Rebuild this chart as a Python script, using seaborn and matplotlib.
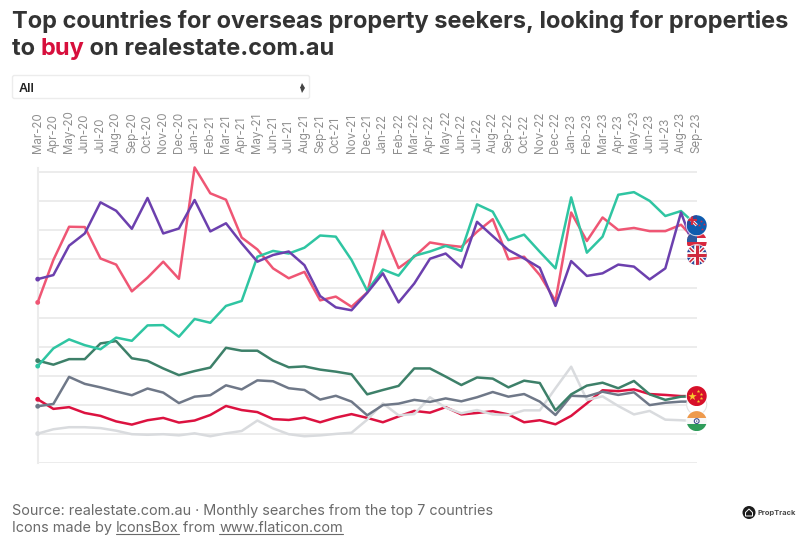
import matplotlib
matplotlib.use('Agg')
import matplotlib.pyplot as plt
import matplotlib.patches as mpatches
import numpy as np
import pandas as pd
import seaborn as sns

months = ['Mar-20', 'Apr-20', 'May-20', 'Jun-20', 'Jul-20', 'Aug-20', 'Sep-20', 'Oct-20', 'Nov-20', 'Dec-20',
	'Jan-21', 'Feb-21', 'Mar-21', 'Apr-21', 'May-21', 'Jun-21', 'Jul-21', 'Aug-21', 'Sep-21', 'Oct-21', 'Nov-21', 'Dec-21',
	'Jan-22', 'Feb-22', 'Mar-22', 'Apr-22', 'May-22', 'Jun-22', 'Jul-22', 'Aug-22', 'Sep-22', 'Oct-22', 'Nov-22', 'Dec-22',
	'Jan-23', 'Feb-23', 'Mar-23', 'Apr-23', 'May-23', 'Jun-23', 'Jul-23', 'Aug-23', 'Sep-23']

# no y scale on the original, values are in gridline units (10 per line)
china = [21.9, 18.6, 19.2, 17.2, 16.2, 14.3, 13.2, 14.7, 15.5, 13.9, 14.6, 16.5, 19.6, 18.2, 17.5, 15.1, 14.8, 15.6, 14.0, 15.6, 16.8, 15.5,
	14.0, 16.0, 17.9, 17.3, 19.2, 16.7, 17.2, 17.8, 16.7, 14.0, 14.7, 13.3, 16.2, 20.5, 25.0, 24.7, 25.3, 23.7, 23.4, 23.0, 23.0]
india = [10.1, 11.6, 12.3, 12.3, 12.0, 11.1, 9.9, 9.7, 9.9, 9.5, 10.2, 9.2, 10.2, 11.0, 14.6, 11.9, 9.9, 9.2, 9.5, 10.0, 10.4, 14.9,
	20.5, 16.4, 16.8, 22.6, 19.0, 17.1, 18.2, 16.7, 16.5, 18.1, 18.1, 25.7, 33.1, 21.7, 22.9, 19.6, 16.7, 17.9, 14.9, 14.7, 14.4]
singapore = [19.5, 20.3, 29.6, 27.2, 26.0, 24.6, 23.3, 25.6, 24.2, 20.6, 22.8, 23.3, 26.7, 25.3, 28.4, 28.1, 25.7, 25.1, 21.8, 23.1, 21.1, 16.4,
	19.9, 20.4, 21.7, 21.0, 22.2, 21.2, 22.6, 24.4, 22.8, 23.7, 21.1, 16.5, 23.1, 22.9, 24.5, 23.4, 24.3, 19.9, 20.7, 21.1, 21.1]
hong_kong = [35.2, 33.8, 35.7, 35.7, 41.1, 41.9, 36.0, 35.1, 32.5, 30.2, 31.6, 32.8, 39.6, 38.6, 38.6, 35.2, 32.9, 33.2, 32.1, 31.4, 30.5, 23.6,
	25.1, 26.5, 32.5, 32.5, 29.7, 26.8, 29.4, 29.0, 26.0, 28.3, 27.5, 18.1, 23.6, 26.6, 27.6, 25.7, 28.2, 23.6, 21.7, 22.8, 23.0]
usa = [55.2, 69.8, 81.2, 81.1, 70.3, 68.2, 59.0, 63.7, 69.2, 63.3, 101.6, 92.7, 90.5, 77.5, 73.4, 66.9, 63.5, 65.7, 55.9, 57.2, 53.7, 58.6,
	79.8, 67.0, 70.9, 75.8, 74.9, 74.3, 79.5, 83.8, 70.0, 70.9, 64.6, 55.7, 86.1, 76.3, 84.4, 80.1, 80.8, 79.7, 79.7, 81.9, 76.1]
nz = [33.3, 39.4, 42.5, 40.5, 39.1, 43.1, 42.0, 47.3, 47.4, 43.4, 49.5, 48.2, 54.0, 55.7, 70.9, 72.9, 72.0, 74.0, 78.2, 77.8, 69.8, 59.2,
	66.5, 64.4, 71.2, 72.7, 74.6, 72.9, 88.9, 86.4, 76.6, 78.5, 72.6, 66.9, 91.3, 72.3, 77.8, 92.2, 93.1, 90.1, 84.9, 86.6, 81.7]
uk = [63.2, 64.6, 74.7, 78.9, 89.6, 86.7, 80.5, 91.1, 78.9, 80.6, 90.4, 79.6, 82.4, 75.5, 69.2, 71.5, 72.7, 68.0, 57.4, 53.5, 52.5, 58.5,
	65.2, 55.2, 61.7, 70.2, 72.0, 67.2, 82.9, 78.0, 73.2, 70.3, 67.1, 54.0, 69.4, 64.3, 65.2, 68.2, 67.5, 63.1, 66.9, 86.1, 71.5]

countries = ['China', 'India', 'Singapore', 'Hong Kong', 'USA', 'NZ', 'UK']
series = [china, india, singapore, hong_kong, usa, nz, uk]
colors = ['#dc1240', '#d9dbde', '#6f7888', '#3d8069', '#ef5674', '#2fc5a2', '#6c40ae']

sns.set_theme(style='white')
plt.rcParams['font.family'] = ['Inter', 'DejaVu Sans']

W, H = 800, 543
fig = plt.figure(figsize=(W / 100, H / 100), dpi=100, facecolor='white')
ax = fig.add_axes([37.7 / W, (H - 463) / H, 659 / W, 295 / H])

df = pd.DataFrame({
	'month': months * len(countries),
	'value': sum(series, []),
	'country': [c for c in countries for _ in months],
})
sns.lineplot(data=df, x='month', y='value', hue='country', hue_order=countries, palette=colors,
	linewidth=1.8, legend=False, sort=False, ax=ax, zorder=3)
sns.scatterplot(data=df[df['month'] == months[0]], x='month', y='value', hue='country', hue_order=countries,
	palette=colors, s=12, linewidth=0, legend=False, ax=ax, zorder=3, clip_on=False)
for line in ax.lines:
	line.set_clip_on(False)

ax.set_xlim(0, 42)
ax.set_ylim(0, 101.4)
ax.set_yticks(np.arange(0, 101, 10))
ax.set_yticklabels([])
ax.grid(axis='y', color='#ebebeb', linewidth=1.3)
ax.set_axisbelow(True)
ax.set_xlabel('')
ax.set_ylabel('')
ax.xaxis.tick_top()
ax.set_xticks(range(len(months)))
ax.set_xticklabels(months, rotation=90, fontsize=8.3, color='#8f8f8f')
ax.tick_params(axis='x', length=0, pad=10.5)
ax.tick_params(axis='y', length=0)
for s in ['top', 'right', 'bottom']:
	ax.spines[s].set_visible(False)
ax.spines['left'].set_color('#ececec')
ax.spines['left'].set_linewidth(1.5)

# overlay in pixel coordinates for the page furniture and flags
ov = fig.add_axes([0, 0, 1, 1], facecolor='none', zorder=5)
ov.set_xlim(0, W)
ov.set_ylim(H, 0)
ov.axis('off')
renderer = fig.canvas.get_renderer()


def segments(x, y, parts, **kw):
	# text runs side by side, returns extents so links can be underlined
	spans = []
	for txt, color in parts:
		t = ov.text(x, y, txt, color=color, va='baseline', ha='left', **kw)
		x1 = t.get_window_extent(renderer).x1
		spans.append((x, x1))
		x = x1
	return spans


segments(12, 28, [('Top countries for overseas property seekers, looking for properties', '#333333')], fontsize=16.95, fontweight='bold')
segments(12, 55, [('to ', '#333333'), ('buy', '#d70f3c'), (' on realestate.com.au', '#333333')], fontsize=16.95, fontweight='bold')

ov.add_patch(mpatches.FancyBboxPatch((12.5, 75.5), 297, 23, boxstyle='round,pad=0,rounding_size=2', fc='white', ec='#ececec', lw=1))
ov.text(19, 92, 'All', fontsize=9, fontweight='semibold', color='#222222')
ov.plot([301.5], [84.5], marker='^', ms=3.6, color='#444444', mew=0)
ov.plot([301.5], [90], marker='v', ms=3.6, color='#444444', mew=0)

segments(12, 515, [('Source: realestate.com.au · Monthly searches from the top 7 countries', '#6a6a6a')], fontsize=10.4)
foot = segments(12, 532, [('Icons made by ', '#6a6a6a'), ('IconsBox', '#6a6a6a'), (' from ', '#6a6a6a'), ('www.flaticon.com', '#6a6a6a')], fontsize=10.4)
for i in (1, 3):
	ov.plot(foot[i], [534, 534], color='#6a6a6a', lw=0.8)

ov.add_patch(mpatches.Circle((749, 512.5), 6.5, fc='#1c1c1c', ec='none'))
ov.add_patch(mpatches.Polygon([(745.5, 512.5), (749, 509), (752.5, 512.5), (752.5, 516), (745.5, 516)], fc='none', ec='white', lw=0.7))
ov.text(758, 515, 'PropTrack', fontsize=5.4, fontweight='bold', color='#4a4a4a')


def flag_xy(value):
	px, py = ax.transData.transform((42, value))
	return px, H - py


def flag_base(cx, cy, r=10):
	clip = mpatches.Circle((cx, cy), r, transform=ov.transData)
	ov.add_patch(mpatches.Circle((cx, cy), r + 1, fc='white', ec='none', alpha=0.7))
	return clip


def band(cx, cy, clip, x0, y0, w, h, color):
	p = mpatches.Rectangle((cx + x0, cy + y0), w, h, fc=color, ec='none')
	ov.add_patch(p)
	p.set_clip_path(clip)


def cross_lines(cx, cy, clip, pts, color, lw):
	ln, = ov.plot([cx + pts[0], cx + pts[2]], [cy + pts[1], cy + pts[3]], color=color, lw=lw, solid_capstyle='butt')
	ln.set_clip_path(clip)


def union(cx, cy, clip, s=10):
	cross_lines(cx, cy, clip, (-s, -s, s, s), 'white', 3 * s / 10)
	cross_lines(cx, cy, clip, (-s, s, s, -s), 'white', 3 * s / 10)
	cross_lines(cx, cy, clip, (-s, -s, s, s), '#cf2a3f', 1.2 * s / 10)
	cross_lines(cx, cy, clip, (-s, s, s, -s), '#cf2a3f', 1.2 * s / 10)
	cross_lines(cx, cy, clip, (-s, 0, s, 0), 'white', 4 * s / 10)
	cross_lines(cx, cy, clip, (0, -s, 0, s), 'white', 4 * s / 10)
	cross_lines(cx, cy, clip, (-s, 0, s, 0), '#cf2a3f', 2.2 * s / 10)
	cross_lines(cx, cy, clip, (0, -s, 0, s), '#cf2a3f', 2.2 * s / 10)


# USA
cx, cy = flag_xy(usa[-1])
clip = flag_base(cx, cy)
for k in range(5):
	band(cx, cy, clip, -10, -10 + k * 4, 20, 2, '#d8283f' if k % 2 else '#ffffff')
	band(cx, cy, clip, -10, -8 + k * 4, 20, 2, '#ffffff' if k % 2 else '#d8283f')
band(cx, cy, clip, -10, -10, 10, 10, '#2c5aa0')

# UK
cx, cy = flag_xy(uk[-1])
clip = flag_base(cx, cy)
band(cx, cy, clip, -10, -10, 20, 20, '#2b4a9b')
union(cx, cy, clip)

# NZ
cx, cy = flag_xy(nz[-1])
clip = flag_base(cx, cy)
band(cx, cy, clip, -10, -10, 20, 20, '#0f5cae')
band(cx, cy, clip, -10, -10, 10, 10, '#2b4a9b')
cross_lines(cx, cy, clip, (-10, -10, 0, 0), 'white', 2.2)
cross_lines(cx, cy, clip, (-10, -10, 0, 0), '#cf2a3f', 0.9)
cross_lines(cx, cy, clip, (-10, -5, 0, -5), '#cf2a3f', 1.4)
cross_lines(cx, cy, clip, (-5, -10, -5, 0), '#cf2a3f', 1.4)
ov.scatter([cx + 4, cx + 7, cx + 2, cx + 5], [cy - 4, cy - 1, cy, cy + 4], s=5, marker='*', color='#d8283f', linewidths=0, zorder=4)

# Singapore sits almost hidden behind China and India
cx, cy = flag_xy(singapore[-1])
cy += 3
ov.add_patch(mpatches.Circle((cx, cy), 10, fc='white', ec='#e3e3e3', lw=0.8))

# India
cx, cy = flag_xy(india[-1])
clip = flag_base(cx, cy)
band(cx, cy, clip, -10, -10, 20, 6.7, '#ee9a4d')
band(cx, cy, clip, -10, -3.3, 20, 6.6, '#f7f7f7')
band(cx, cy, clip, -10, 3.3, 20, 6.7, '#2f9c5a')
ov.add_patch(mpatches.Circle((cx, cy), 2.4, fc='white', ec='#3f4f8f', lw=0.8))
ov.add_patch(mpatches.Circle((cx, cy), 0.7, fc='#3f4f8f', ec='none'))

# China
cx, cy = flag_xy(china[-1])
clip = flag_base(cx, cy)
band(cx, cy, clip, -10, -10, 20, 20, '#d7102a')
ov.scatter([cx - 4.5], [cy], s=40, marker='*', color='#f8c92e', linewidths=0, zorder=4)
ov.scatter([cx + 1, cx + 4, cx + 4, cx + 1], [cy - 5, cy - 2, cy + 2, cy + 5], s=7, marker='*', color='#f8c92e', linewidths=0, zorder=4)

fig.savefig('out.png', dpi=100, facecolor='white')
plt.close(fig)
